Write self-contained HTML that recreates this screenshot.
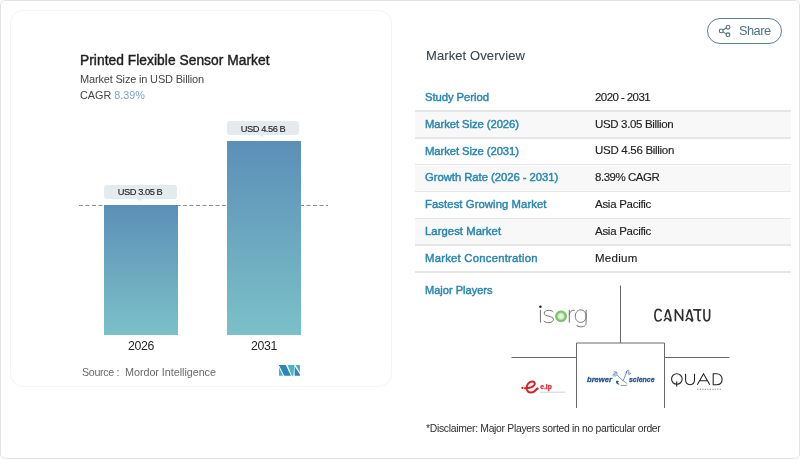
<!DOCTYPE html>
<html><head><meta charset="utf-8">
<style>
html,body{margin:0;padding:0;background:#fff;}
body{width:800px;height:459px;position:relative;overflow:hidden;font-family:"Liberation Sans",sans-serif;}
.t{position:absolute;white-space:nowrap;will-change:transform;}
.abs{position:absolute;}
</style></head><body>
<div class="abs" style="left:0;top:0;width:797.5px;height:456.5px;border:1.5px solid #e2e2e2;border-radius:5px;"></div>
<div class="abs" style="left:10px;top:9.5px;width:380px;height:375px;border:1px solid #f4f4f4;border-radius:13px;"></div>
<div class="t" style="left:79.80px;top:53.62px;font-size:13.8px;line-height:13.8px;color:#1e1e1e;font-weight:400;letter-spacing:0.032px;-webkit-text-stroke:0.4px #1e1e1e;">Printed Flexible Sensor Market</div>
<div class="t" style="left:79.80px;top:73.79px;font-size:11.0px;line-height:11.0px;color:#454545;font-weight:400;letter-spacing:-0.175px;">Market Size in USD Billion</div>
<div class="t" style="left:79.80px;top:90.26px;font-size:10.8px;line-height:10.8px;color:#444;font-weight:400;">CAGR <span style="color:#7fa6bf;-webkit-text-stroke:0">8.39%</span></div>
<svg class="abs" style="left:0;top:0" width="400" height="400"><line x1="79" y1="205.5" x2="328" y2="205.5" stroke="#8c8c8c" stroke-width="1" stroke-dasharray="4,2.5"/></svg>
<div class="abs" style="left:104px;top:205px;width:74px;height:129.5px;background:linear-gradient(#5c8fb7,#7bc1c8);"></div>
<div class="abs" style="left:227px;top:141px;width:74px;height:193.5px;background:linear-gradient(#5c8fb7,#7bc1c8);"></div>
<div class="abs" style="left:104px;top:185.3px;width:72.5px;height:13.399999999999977px;background:#e4ebee;border-radius:3px;"></div>
<div class="abs" style="left:137.75px;top:198.7px;width:0;height:0;border-left:2.5px solid transparent;border-right:2.5px solid transparent;border-top:2.5px solid #e4ebee;"></div>
<div class="t" style="left:140.25px;top:188.11px;font-size:9.3px;line-height:9.3px;color:#262626;font-weight:400;letter-spacing:-0.473px;-webkit-text-stroke:0.15px #262626;transform:translateX(-50%);">USD 3.05 B</div>
<div class="abs" style="left:226.5px;top:121.2px;width:72.0px;height:13.399999999999991px;background:#e4ebee;border-radius:3px;"></div>
<div class="abs" style="left:260.0px;top:134.6px;width:0;height:0;border-left:2.5px solid transparent;border-right:2.5px solid transparent;border-top:2.5px solid #e4ebee;"></div>
<div class="t" style="left:262.50px;top:124.53px;font-size:9.3px;line-height:9.3px;color:#262626;font-weight:400;letter-spacing:-0.473px;-webkit-text-stroke:0.15px #262626;transform:translateX(-50%);">USD 4.56 B</div>
<div class="t" style="left:141.20px;top:339.69px;font-size:12.3px;line-height:12.3px;color:#262626;font-weight:400;letter-spacing:-0.356px;transform:translateX(-50%);">2026</div>
<div class="t" style="left:263.90px;top:339.69px;font-size:12.3px;line-height:12.3px;color:#262626;font-weight:400;letter-spacing:-0.356px;transform:translateX(-50%);">2031</div>
<div class="t" style="left:81.50px;top:367.24px;font-size:10.7px;line-height:10.7px;color:#6a6a6a;font-weight:400;letter-spacing:-0.337px;">Source :</div>
<div class="t" style="left:124.60px;top:367.16px;font-size:10.8px;line-height:10.8px;color:#6a6a6a;font-weight:400;letter-spacing:-0.047px;">Mordor Intelligence</div>
<svg class="abs" style="left:274px;top:360px" width="32" height="20" viewBox="0 0 32 20">
<polygon points="5,5 11.8,5 17,15.7 10.2,15.7 5,5.2" fill="#2e85b6"/>
<polygon points="5,7.4 9.1,15.7 5,15.7" fill="#45b5c2"/>
<polygon points="13.6,5 20.3,5 19.4,15.7 17.9,15.7" fill="#45b5c2"/>
<polygon points="20.6,6.3 26,14.6 26,15.7 20.6,15.7" fill="#2e85b6"/>
<polygon points="21.4,5 26,5 26,12.6" fill="#45b5c2"/>
</svg>
<div class="t" style="left:425.50px;top:49.40px;font-size:13.0px;line-height:13.0px;color:#3a4550;font-weight:400;letter-spacing:0.095px;-webkit-text-stroke:0.1px #3a4550;">Market Overview</div>
<div class="abs" style="left:706.8px;top:18.4px;width:73.6px;height:23.8px;border:1.2px solid #5f808d;border-radius:13px;"></div>
<svg class="abs" style="left:716px;top:21.6px" width="18" height="18" viewBox="0 0 18 18">
<g fill="none" stroke="#4f717d" stroke-width="1.1">
<circle cx="12" cy="5.2" r="1.9"/><circle cx="5.2" cy="8.9" r="1.9"/><circle cx="12" cy="12.8" r="1.9"/>
<line x1="6.9" y1="8" x2="10.3" y2="6.1"/><line x1="6.9" y1="9.9" x2="10.3" y2="11.9"/>
</g></svg>
<div class="t" style="left:739.00px;top:25.26px;font-size:12.8px;line-height:12.8px;color:#4f737f;font-weight:400;letter-spacing:-0.536px;">Share</div>
<div class="abs" style="left:414.5px;top:110.2px;width:376px;height:1.6px;background:#e6e6e6;"></div>
<div class="t" style="left:425.40px;top:91.83px;font-size:11.3px;line-height:11.3px;color:#2a86b1;font-weight:400;letter-spacing:-0.067px;-webkit-text-stroke:0.45px #2a86b1;">Study Period</div>
<div class="t" style="left:595.20px;top:91.67px;font-size:11.5px;line-height:11.5px;color:#222;font-weight:400;letter-spacing:-0.578px;-webkit-text-stroke:0.15px #222;">2020 - 2031</div>
<div class="abs" style="left:415px;top:111.8px;width:376px;height:26.100000000000005px;background:#f8f8f8;"></div>
<div class="abs" style="left:414.5px;top:137.1px;width:376px;height:1.6px;background:#e6e6e6;"></div>
<div class="t" style="left:425.40px;top:118.73px;font-size:11.3px;line-height:11.3px;color:#2a86b1;font-weight:400;letter-spacing:-0.083px;-webkit-text-stroke:0.45px #2a86b1;">Market Size (2026)</div>
<div class="t" style="left:595.20px;top:118.57px;font-size:11.5px;line-height:11.5px;color:#222;font-weight:400;letter-spacing:-0.343px;-webkit-text-stroke:0.15px #222;">USD 3.05 Billion</div>
<div class="abs" style="left:414.5px;top:163.89999999999998px;width:376px;height:1.6px;background:#e6e6e6;"></div>
<div class="t" style="left:425.40px;top:145.53px;font-size:11.3px;line-height:11.3px;color:#2a86b1;font-weight:400;letter-spacing:-0.083px;-webkit-text-stroke:0.45px #2a86b1;">Market Size (2031)</div>
<div class="t" style="left:595.20px;top:145.37px;font-size:11.5px;line-height:11.5px;color:#222;font-weight:400;letter-spacing:-0.293px;-webkit-text-stroke:0.15px #222;">USD 4.56 Billion</div>
<div class="abs" style="left:415px;top:165.5px;width:376px;height:26.00000000000001px;background:#f8f8f8;"></div>
<div class="abs" style="left:414.5px;top:190.7px;width:376px;height:1.6px;background:#e6e6e6;"></div>
<div class="t" style="left:425.40px;top:172.33px;font-size:11.3px;line-height:11.3px;color:#2a86b1;font-weight:400;letter-spacing:-0.044px;-webkit-text-stroke:0.45px #2a86b1;">Growth Rate (2026 - 2031)</div>
<div class="t" style="left:595.20px;top:172.17px;font-size:11.5px;line-height:11.5px;color:#222;font-weight:400;letter-spacing:-0.464px;-webkit-text-stroke:0.15px #222;">8.39% CAGR</div>
<div class="abs" style="left:414.5px;top:217.5px;width:376px;height:1.6px;background:#e6e6e6;"></div>
<div class="t" style="left:425.40px;top:199.13px;font-size:11.3px;line-height:11.3px;color:#2a86b1;font-weight:400;letter-spacing:0.076px;-webkit-text-stroke:0.45px #2a86b1;">Fastest Growing Market</div>
<div class="t" style="left:595.20px;top:198.97px;font-size:11.5px;line-height:11.5px;color:#222;font-weight:400;letter-spacing:-0.280px;-webkit-text-stroke:0.15px #222;">Asia Pacific</div>
<div class="abs" style="left:415px;top:219.10000000000002px;width:376px;height:26.099999999999977px;background:#f8f8f8;"></div>
<div class="abs" style="left:414.5px;top:244.39999999999998px;width:376px;height:1.6px;background:#e6e6e6;"></div>
<div class="t" style="left:425.40px;top:226.03px;font-size:11.3px;line-height:11.3px;color:#2a86b1;font-weight:400;letter-spacing:0.052px;-webkit-text-stroke:0.45px #2a86b1;">Largest Market</div>
<div class="t" style="left:595.20px;top:225.87px;font-size:11.5px;line-height:11.5px;color:#222;font-weight:400;letter-spacing:-0.280px;-webkit-text-stroke:0.15px #222;">Asia Pacific</div>
<div class="abs" style="left:414.5px;top:271.2px;width:376px;height:1.6px;background:#e6e6e6;"></div>
<div class="t" style="left:425.40px;top:252.83px;font-size:11.3px;line-height:11.3px;color:#2a86b1;font-weight:400;letter-spacing:0.238px;-webkit-text-stroke:0.45px #2a86b1;">Market Concentration</div>
<div class="t" style="left:595.20px;top:252.67px;font-size:11.5px;line-height:11.5px;color:#222;font-weight:400;letter-spacing:0.288px;-webkit-text-stroke:0.15px #222;">Medium</div>
<div class="t" style="left:425.40px;top:284.50px;font-size:11.1px;line-height:11.1px;color:#2a86b1;font-weight:400;letter-spacing:-0.025px;-webkit-text-stroke:0.45px #2a86b1;">Major Players</div>
<svg class="abs" style="left:0;top:0" width="800" height="459">
<g stroke="#6a6a6a" stroke-width="1" fill="none">
<line x1="620.5" y1="285.5" x2="620.5" y2="343"/>
<polyline points="576.5,408 576.5,343 664.5,343 664.5,408"/>
<line x1="511.5" y1="357.5" x2="576.5" y2="357.5"/>
<line x1="664.5" y1="357.5" x2="729.5" y2="357.5"/>
</g>
</svg>
<svg class="abs" style="left:530px;top:300px" width="64" height="32" viewBox="0 0 64 32">
<defs><radialGradient id="gl" cx="0.5" cy="0.5" r="0.5">
<stop offset="0" stop-color="#f0f9ec"/><stop offset="0.4" stop-color="#d2ecc9"/><stop offset="0.68" stop-color="#74bd66"/><stop offset="0.85" stop-color="#8fcb83"/><stop offset="1" stop-color="#ffffff" stop-opacity="0"/></radialGradient></defs>
<circle cx="10.4" cy="6.8" r="1.2" fill="#1a1a1a"/>
<g fill="none" stroke="#6e6e6e" stroke-width="1">
<line x1="10.4" y1="9.7" x2="10.4" y2="22.6"/>
<path d="M23.2,12 C21.8,9.8 14.2,9.3 14.2,13.2 C14.2,16.8 23.4,15.6 23.4,19.4 C23.4,23.5 15.5,23.5 13.8,20.8"/>
<path d="M39.3,22.6 V9.9 M39.3,15 C39.6,11.5 41.8,10 44.8,10.2"/>
<path d="M56.1,9.9 V22.5 C56.1,26 53.5,26.8 50.8,26.8 C48.5,26.8 47,26 46.2,24.8 M56.1,16.2 C56.1,12.6 53.8,9.9 50.7,9.9 C47.6,9.9 45.3,12.6 45.3,16.2 C45.3,19.8 47.6,22.4 50.7,22.4 C53.8,22.4 56.1,19.8 56.1,16.2"/>
</g>
<circle cx="31" cy="16.3" r="6.6" fill="url(#gl)"/>
</svg>
<svg class="abs" style="left:650px;top:302px" width="64" height="24" viewBox="0 0 64 24">
<g fill="none" stroke="#2e2e2e" stroke-width="1.65" stroke-linecap="round" stroke-linejoin="round">
<path d="M11.2,9 C10.5,7.9 9.5,7.4 8.2,7.4 C5.8,7.4 4.9,9.5 4.9,13.2 C4.9,16.9 5.8,19 8.2,19 C9.5,19 10.5,18.5 11.2,17.4"/>
<path d="M15.2,14.8 L17.3,8.3 Q17.9,7.3 18.5,8.3 L21,18 C21.2,19 20.5,19.2 20,18.6 C19,17.3 18,16.2 17,16.2 C16,16.2 15,17 14.4,18.5"/>
<path d="M25.4,18.6 V7.8 L32.6,18.4 V7.8"/>
<path d="M36.8,14.8 L38.9,8.3 Q39.5,7.3 40.1,8.3 L42.6,18 C42.8,19 42.1,19.2 41.6,18.6 C40.6,17.3 39.6,16.2 38.6,16.2 C37.6,16.2 36.6,17 36,18.5"/>
<path d="M43.8,7.8 H50.8 M48.1,7.8 V17.4 C48.1,18.3 48.8,18.6 50,18.6"/>
<path d="M54,7.8 V14.5 C54,17.3 55.2,18.8 56.8,18.8 C58.4,18.8 59.6,17.3 59.6,14.5 V7.8"/>
</g></svg>
<svg class="abs" style="left:518px;top:378px" width="50" height="18" viewBox="0 0 50 18">
<circle cx="4.4" cy="9.9" r="1.1" fill="#d61f26"/>
<path d="M6.8,10.2 C10,10.2 15,9.2 16.5,6.8 C17.5,4.8 16,3.3 14,3.5 C11,3.8 8.6,7 8.6,10 C8.6,13 10.5,14.8 13.3,14.6 C16,14.4 17.5,12.5 18.8,10.8" fill="none" stroke="#d61f26" stroke-width="2" stroke-linecap="round"/>
<circle cx="19.4" cy="10.6" r="1.2" fill="#d61f26"/>
<text x="22.3" y="11.3" font-family="Liberation Sans" font-weight="700" font-size="7" fill="#d61f26" stroke="#d61f26" stroke-width="0.25" textLength="11.5" lengthAdjust="spacingAndGlyphs">e.ip</text>
<line x1="22.3" y1="14.2" x2="47" y2="14.2" stroke="#b4b4b4" stroke-width="0.9" stroke-dasharray="1.2,0.5"/>
</svg>
<svg class="abs" style="left:582px;top:364px" width="80" height="28" viewBox="0 0 80 28">
<text x="5" y="18" font-family="Liberation Sans" font-weight="700" font-style="italic" font-size="7.4" fill="#24548b" stroke="#24548b" stroke-width="0.3" textLength="25" lengthAdjust="spacingAndGlyphs">brewer</text>
<text x="47" y="18" font-family="Liberation Sans" font-weight="700" font-style="italic" font-size="7.4" fill="#24548b" stroke="#24548b" stroke-width="0.3" textLength="25.5" lengthAdjust="spacingAndGlyphs">science</text>
<g fill="none" stroke="#2f5f92" stroke-width="0.65" stroke-linecap="round">
<path d="M35.3,11.2 C37,13 39,15 41,16.6 C42.3,17.5 43.5,18.3 44.6,19.2"/>
<path d="M44.8,7 C44,10 42.8,13.5 41,16.6"/>
<path d="M31.2,12 C30.6,10.8 31.2,9.6 32.4,9.8 M33,12.4 C32.4,11 33,8.4 34.5,8 C35.4,8.6 35,10.5 34.2,11.5 M31.8,8 C32.8,7.4 33.8,7.6 34.3,8.3"/>
<path d="M44.2,9 C44.6,7.6 45.4,6.2 46.4,6 C47.2,6.6 46.8,8.2 46,9 M46.5,9.2 C47.5,8.6 48.4,8.6 48.5,9.6 C48.3,10.4 47.4,10.6 46.7,10.2"/>
<path d="M39.2,21.4 C41,21.8 43,21.8 44.8,21.3"/>
</g>
<path d="M34.2,17 C35.6,16.6 36.6,17.2 37,18 C36.4,17.9 35.8,18 35.6,18.6 C36,19.4 37,20 38,20.2 C36.6,20.8 34.8,20.2 34.2,19 C33.9,18.3 33.9,17.6 34.2,17 Z" fill="#24548b"/>
</svg>
<svg class="abs" style="left:668px;top:370px" width="60" height="22" viewBox="0 0 60 22">
<g fill="none" stroke="#262626" stroke-width="1.1">
<circle cx="8.85" cy="9" r="5.3"/>
<line x1="8.7" y1="11.6" x2="8.7" y2="16.6"/>
<path d="M17.6,3.8 V9.8 C17.6,13 19.5,14.7 22.1,14.7 C24.7,14.7 26.5,13 26.5,9.8 V3.8"/>
<path d="M29.3,14.75 L35.5,3.8 L41.8,14.75 M31.3,10.8 H39.7"/>
<path d="M45.2,3.8 V14.75 H48.6 C52,14.75 54.1,12.4 54.1,9.3 C54.1,6.2 52,3.8 48.6,3.8 H45.2 Z"/>
</g>
<line x1="29.2" y1="19.2" x2="54" y2="19.2" stroke="#8c8c8c" stroke-width="1.1" stroke-dasharray="1.3,1.2"/>
</svg>
<div class="t" style="left:425.80px;top:424.30px;font-size:10.4px;line-height:10.4px;color:#2e2e2e;font-weight:400;letter-spacing:-0.309px;">*Disclaimer: Major Players sorted in no particular order</div>
</body></html>
